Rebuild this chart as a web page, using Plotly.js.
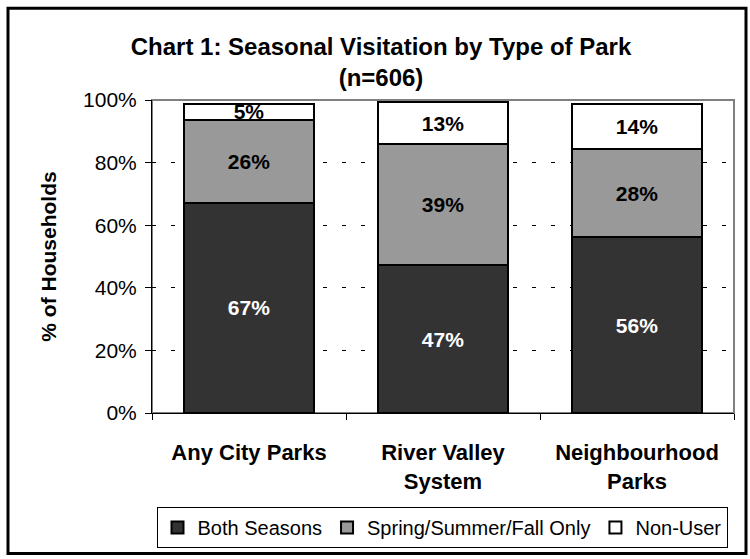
<!DOCTYPE html>
<html>
<head>
<meta charset="utf-8">
<script src="https://cdn.plot.ly/plotly-3.0.1.min.js"></script>
<style>
  html, body { margin: 0; padding: 0; background: #fff; }
  #chart { width: 750px; height: 559px; }
</style>
</head>
<body>
<div id="chart"></div>
<script>
// ---- data ----
const categories = ["Any City Parks", "River Valley System", "Neighbourhood Parks"];
const categoryLabels = ["Any City Parks", "River Valley<br>System", "Neighbourhood<br>Parks"];
const seriesNames = ["Both Seasons", "Spring/Summer/Fall Only", "Non-User"];
const bothSeasons = [67.2, 47.2, 56.1];
const springSummerFall = [26.4, 38.7, 28.2];
const nonUser = [5.2, 13.4, 14.3];
const yTickVals = [0, 20, 40, 60, 80, 100];
const yTickText = ["0%", "20%", "40%", "60%", "80%", "100%"];

const FONT = "Arial, 'Liberation Sans', sans-serif";
const W = 750, H = 559;
const M = { l: 152, r: 16, t: 100, b: 145 };
const pw = W - M.l - M.r, ph = H - M.t - M.b;
const px = x => (x - M.l) / pw;
const py = y => (H - M.b - y) / ph;

function bar(name, vals, fill, textColor) {
  return {
    type: "bar",
    name: name,
    x: categories,
    y: vals,
    text: vals.map(v => Math.round(v) + "%"),
    textposition: "inside",
    insidetextanchor: "middle",
    constraintext: "none",
    textangle: 0,
    textfont: { family: FONT, size: 21, color: textColor, weight: "bold" },
    marker: { color: fill, line: { color: "#000", width: 2 } },
    hoverinfo: "skip"
  };
}

const data = [
  bar(seriesNames[0], bothSeasons, "#333333", "#ffffff"),
  bar(seriesNames[1], springSummerFall, "#999999", "#000000"),
  bar(seriesNames[2], nonUser, "#ffffff", "#000000")
];

const layout = {
  width: W, height: H,
  margin: M,
  paper_bgcolor: "#fff",
  plot_bgcolor: "#fff",
  barmode: "stack",
  bargap: 0.33,
  showlegend: true,
  font: { family: FONT, color: "#000" },
  title: {
    text: "<b>Chart 1: Seasonal Visitation by Type of Park<br>(n=606)</b>",
    font: { family: FONT, size: 24, color: "#000" },
    x: 381 / W, xanchor: "center", xref: "container",
    y: 1 - 55 / H, yanchor: "top", yref: "container"
  },
  xaxis: {
    type: "category",
    tickvals: categories,
    ticktext: categoryLabels.map(s => "<b>" + s + "</b>"),
    tickfont: { family: FONT, size: 22, color: "#000" },
    tickson: "boundaries",
    ticks: "outside", ticklen: 6, tickcolor: "#000", tickwidth: 1,
    ticklabelstandoff: 20,
    showline: true, linecolor: "#000", linewidth: 1,
    showgrid: false, zeroline: false,
    fixedrange: true
  },
  yaxis: {
    range: [0, 100],
    tickvals: yTickVals,
    ticktext: yTickText,
    tickfont: { family: FONT, size: 21, color: "#000" },
    ticks: "outside", ticklen: 6, tickcolor: "#000", tickwidth: 1,
    ticklabelstandoff: 4,
    showline: true, linecolor: "#000", linewidth: 1,
    showgrid: true, gridcolor: "#000", gridwidth: 1, griddash: "4px,15px",
    zeroline: false,
    title: { text: "<b>% of Households</b>", font: { family: FONT, size: 21, color: "#000" }, standoff: 20 },
    fixedrange: true
  },
  legend: {
    orientation: "h",
    x: px(442), xanchor: "center",
    y: py(507), yanchor: "top",
    bordercolor: "#000", borderwidth: 1,
    bgcolor: "#fff",
    font: { family: FONT, size: 20, color: "#000" },
    traceorder: "normal",
    itemwidth: 30
  },
  shapes: [
    { type: "rect", xref: "paper", yref: "paper", x0: 0, x1: 1, y0: 0, y1: 1,
      line: { color: "#808080", width: 2 }, layer: "below" },
    { type: "rect", xref: "paper", yref: "paper", x0: px(8), x1: px(746), y0: py(8), y1: py(555),
      line: { color: "#000", width: 3 }, layer: "above" }
  ]
};

Plotly.newPlot("chart", data, layout, { staticPlot: true, displayModeBar: false });
</script>
</body>
</html>
